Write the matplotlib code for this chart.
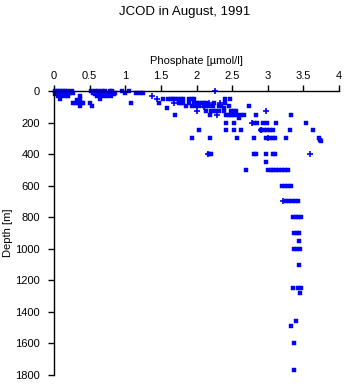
import matplotlib
matplotlib.use("Agg")
import matplotlib.pyplot as plt

plt.rcParams['font.family'] = ['Liberation Sans', 'DejaVu Sans']

# Square-marker observations: (depth, list of phosphate values)
sq_depths = [0, 10, 20, 30, 50, 60, 75, 95, 110, 125, 150, 170, 200, 250, 300,
             310, 320, 400, 450, 500, 600, 700, 800, 900, 950, 1000, 1100,
             1250, 1280, 1460, 1490, 1600, 1770]
sq_values = [
    [0.02, 0.05, 0.08, 0.12, 0.15, 0.2, 0.25, 0.52, 0.58, 0.62, 0.68, 0.72, 0.78, 0.82, 0.95, 1.05],
    [0.03, 0.07, 0.1, 0.14, 0.18, 0.22, 0.27, 0.55, 0.6, 0.65, 0.7, 0.75, 0.8, 0.86, 1.0, 1.15, 1.2, 1.25],
    [0.02, 0.06, 0.1, 0.15, 0.2, 0.58, 0.63, 0.68, 0.73, 0.78, 0.84],
    [0.06, 0.1, 0.15, 0.19, 0.37, 0.6, 0.65, 0.7, 0.75, 0.8],
    [0.08, 0.37, 0.65, 1.53, 1.6, 1.64, 1.67, 1.7, 1.74, 1.78, 1.81, 1.89, 1.93, 1.96, 2.40, 2.47],
    [0.32],
    [0.27, 0.3, 0.34, 0.39, 0.41, 0.5, 1.08, 1.48, 1.75, 1.78, 1.81, 1.90, 1.97, 2.0, 2.04, 2.08, 2.11, 2.14, 2.24, 2.40],
    [0.37, 0.54, 1.85, 1.93, 1.99, 2.04, 2.10, 2.14, 2.18, 2.23, 2.31, 2.35, 2.46, 2.74],
    [1.59, 2.38],
    [2.14, 2.21, 2.25, 2.28, 2.31, 2.38, 2.48, 2.52, 2.56],
    [1.70, 2.19, 2.41, 2.45, 2.49, 2.53, 2.57, 2.62, 2.67, 2.84, 3.32],
    [2.60],
    [2.42, 2.53, 2.81, 2.85, 2.94, 2.99, 3.11, 3.54],
    [2.04, 2.41, 2.52, 2.62, 2.91, 2.95, 2.99, 3.03, 3.07, 3.31, 3.63],
    [1.93, 2.19, 2.57, 2.80, 2.98, 3.03, 3.07, 3.10, 3.25, 3.72],
    [3.74],
    [3.75],
    [2.18, 2.21, 2.81, 2.84, 2.98, 3.07, 3.10],
    [2.98],
    [2.69, 3.0, 3.04, 3.08, 3.12, 3.16, 3.2, 3.24, 3.28],
    [3.2, 3.24, 3.28, 3.32],
    [3.26, 3.3, 3.34, 3.38, 3.42],
    [3.35, 3.39, 3.43, 3.47],
    [3.37, 3.41, 3.44],
    [3.44],
    [3.37, 3.41, 3.45],
    [3.44],
    [3.36, 3.42, 3.47],
    [3.45],
    [3.39],
    [3.33],
    [3.37],
    [3.37],
]

# Plus-marker observations
plus_depths = [0, 30, 50, 75, 75, 75, 100, 125, 125, 150, 200, 250, 300, 400, 400, 700]
plus_values = [2.26, 1.37, 1.44, 1.69, 2.17, 2.33, 2.10, 2.00, 2.98, 2.29, 2.78, 2.91, 3.00, 2.16, 3.59, 3.21]

x_ticks = [0, 0.5, 1, 1.5, 2, 2.5, 3, 3.5, 4]
x_ticklabels = ["0", "0.5", "1", "1.5", "2", "2.5", "3", "3.5", "4"]
y_ticks = [0, 200, 400, 600, 800, 1000, 1200, 1400, 1600, 1800]

sq_x = [v for d, vals in zip(sq_depths, sq_values) for v in vals]
sq_y = [d for d, vals in zip(sq_depths, sq_values) for v in vals]

fig = plt.figure(figsize=(3.45, 3.84), dpi=100)
ax = fig.add_axes([54/345, 1-375/384, (339-54)/345, (375-91)/384])

blue = '#0000ff'
ax.plot(sq_x, sq_y, linestyle='none', marker='s', markersize=2.2,
        markerfacecolor=blue, markeredgecolor=blue, markeredgewidth=0.3, clip_on=False)
ax.plot(plus_values, plus_depths, linestyle='none', marker='+', markersize=3.8,
        markeredgecolor=blue, markeredgewidth=1.2, clip_on=False)

ax.set_xlim(0, 4)
ax.set_ylim(1800, 0)
ax.set_xticks(x_ticks)
ax.set_xticklabels(x_ticklabels)
ax.set_yticks(y_ticks)
ax.xaxis.tick_top()
ax.xaxis.set_label_position('top')
for s in ['bottom', 'right']:
    ax.spines[s].set_visible(False)
for s in ['top', 'left']:
    ax.spines[s].set_linewidth(1.0)
ax.tick_params(axis='both', direction='out', length=4, width=1, labelsize=8)
ax.tick_params(axis='x', pad=3)
ax.tick_params(axis='y', pad=6)
ax.set_xlabel("Phosphate [µmol/l]", fontsize=8, labelpad=5)
ax.set_ylabel("Depth [m]", fontsize=8, labelpad=2)
fig.text(185/345, 1-12/384, "JCOD in August, 1991", ha='center', va='center', fontsize=9.5)

fig.savefig("out.png", dpi=100)
